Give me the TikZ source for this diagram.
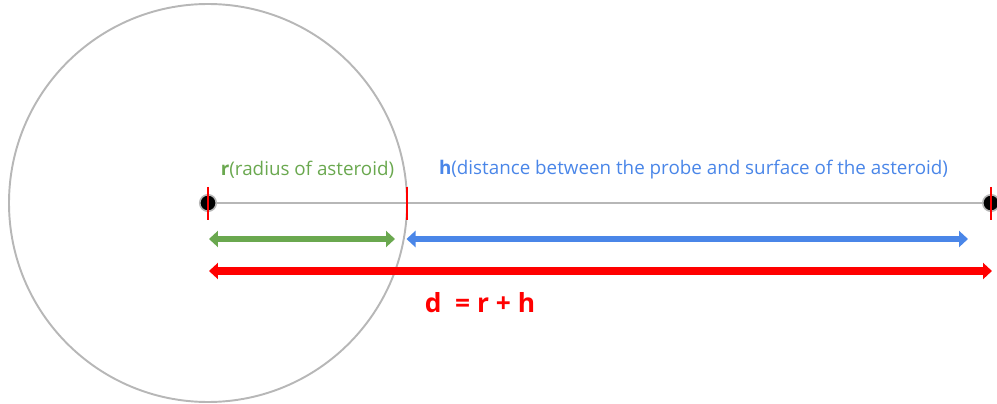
\documentclass[tikz,border=0pt]{standalone}
\usepackage{fontspec}
\setmainfont{Open Sans}
\usetikzlibrary{arrows.meta}
\definecolor{astgreen}{HTML}{6AA84F}
\definecolor{astblue}{HTML}{4A86E8}
\definecolor{astgray}{HTML}{B7B7B7}
\tikzset{
  messpfeil/.style={{Triangle[length=0.18cm,width=0.32cm]}-{Triangle[length=0.18cm,width=0.32cm]}, line width=0.13cm},
  punkt/.style={circle, fill=black, draw=astgray, line width=0.9pt, inner sep=0pt, minimum size=0.33cm},
  markierung/.style={red, line width=0.85pt},
  beschriftung/.style={font=\fontsize{10.7}{12}\selectfont, inner sep=0pt},
}
\begin{document}
\begin{tikzpicture}
  % Rahmen
  \useasboundingbox (-4.16,-4.02) rectangle (15.78,4.06);

  % Asteroid
  \draw[astgray, line width=1.1pt] (0,0) circle (3.98);

  % Punkte und Verbindungslinie
  \node[punkt] (mitte) at (0,0) {};
  \node[punkt] (sonde) at (15.66,0) {};
  \coordinate (oberflaeche) at (3.98,0);
  \draw[astgray, line width=1.1pt] (mitte) -- (sonde);

  % Markierungen
  \foreach \p in {mitte,sonde,oberflaeche} {
      \draw[markierung] ([yshift=0.32cm]\p.center) -- ([yshift=-0.34cm]\p.center);
    }

  % Pfeile
  \coordinate (r1) at (0.02,-0.72);
  \coordinate (r2) at (3.74,-0.72);
  \coordinate (h1) at (3.97,-0.72);
  \coordinate (h2) at (15.2,-0.72);
  \coordinate (d1) at (0.02,-1.36);
  \coordinate (d2) at (15.68,-1.36);
  \draw[messpfeil, astgreen] (r1) -- (r2);
  \draw[messpfeil, astblue] (h1) -- (h2);
  \draw[messpfeil, red, line width=0.17cm] (d1) -- (d2);

  % Beschriftungen
  \node[beschriftung, text=astgreen] (rtext) at (1.99,0.66) {\textbf{r}(radius of asteroid)};
  \node[beschriftung, text=astblue] (htext) at (9.71,0.66) {\textbf{h}(distance between the probe and surface of the asteroid)};
  \node[beschriftung, text=red, font=\fontsize{15}{17}\selectfont\bfseries] (dtext) at (5.44,-2.0) {d~ = r + h};
\end{tikzpicture}
\end{document}
